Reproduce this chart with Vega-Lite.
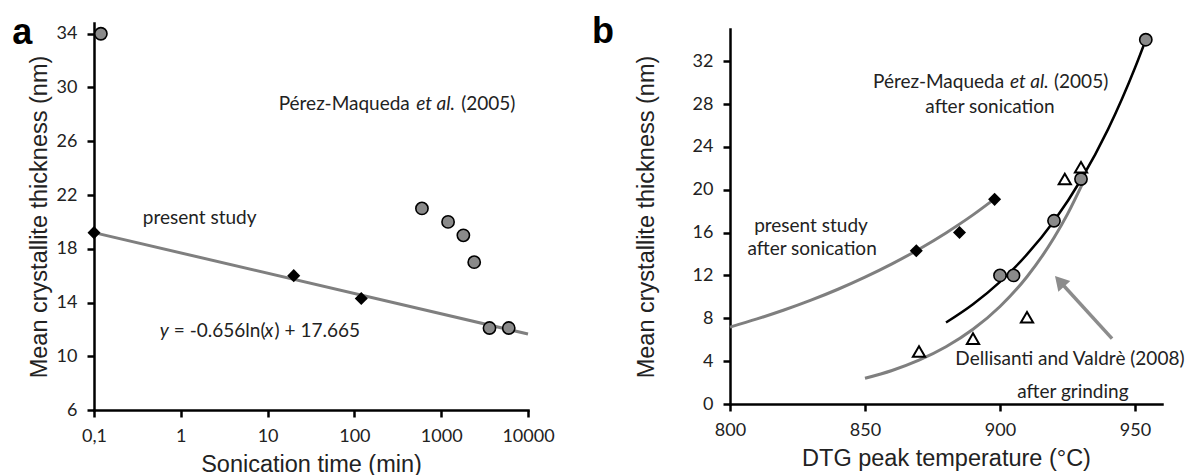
{
  "$schema": "https://vega.github.io/schema/vega-lite/v6.json",
  "background": "white",
  "padding": {"left": 12, "top": 13, "right": 0, "bottom": 0},
  "bounds": "flush",
  "center": true,
  "spacing": 202,
  "config": {
    "view": {"stroke": null},
    "axis": {
      "domainColor": "black", "domainWidth": 2.5, "domainCap": "square",
      "tickColor": "black", "tickWidth": 2.5, "tickSize": 7,
      "labelFont": "Lato", "labelFontSize": 18, "labelColor": "#222", "labelPadding": 10,
      "titleFont": "Liberation Sans", "titleFontSize": 23.5, "titleFontWeight": "normal", "titleColor": "#222",
      "grid": false
    },
    "text": {"font": "Lato", "fontSize": 19, "color": "#222"}
  },
  "datasets": {
    "leftTrend": [{"time": 0.1, "thickness": 19.2}, {"time": 10000, "thickness": 11.65}],
    "leftPresent": [{"time": 0.1, "thickness": 19.2}, {"time": 20, "thickness": 16.0}, {"time": 120, "thickness": 14.3}],
    "leftPerez": [
      {"time": 0.12, "thickness": 34}, {"time": 600, "thickness": 21}, {"time": 1200, "thickness": 20},
      {"time": 1800, "thickness": 19}, {"time": 2400, "thickness": 17}, {"time": 3600, "thickness": 12.1},
      {"time": 6000, "thickness": 12.1}
    ],
    "leftTextCenter": [
      {"text": "present study", "time": 1.65, "thickness": 20.3}
    ],
    "leftTextLeft": [
      {"text": "Pérez-Maqueda", "time": 13.4, "thickness": 28.77},
      {"text": "(2005)", "time": 1698, "thickness": 28.77},
      {"text": "= -0.656ln(", "time": 0.831, "thickness": 11.9},
      {"text": ") + 17.665", "time": 12.04, "thickness": 11.9}
    ],
    "leftTextItalic": [
      {"text": "et al.", "time": 516, "thickness": 28.77},
      {"text": "y", "time": 0.5737, "thickness": 11.9},
      {"text": "x", "time": 9.24, "thickness": 11.9}
    ],
    "leftPanel": [{"text": "a", "time": 0.01142, "thickness": 33.23}],
    "rightCurves": [
      {"series": "present", "temp": 800, "thickness": 7.18},
      {"series": "present", "temp": 810, "thickness": 7.94},
      {"series": "present", "temp": 820, "thickness": 8.77},
      {"series": "present", "temp": 830, "thickness": 9.69},
      {"series": "present", "temp": 840, "thickness": 10.71},
      {"series": "present", "temp": 850, "thickness": 11.84},
      {"series": "present", "temp": 860, "thickness": 13.08},
      {"series": "present", "temp": 870, "thickness": 14.45},
      {"series": "present", "temp": 880, "thickness": 15.97},
      {"series": "present", "temp": 890, "thickness": 17.65},
      {"series": "present", "temp": 897.5, "thickness": 19.05},
      {"series": "dellisanti", "temp": 850, "thickness": 2.4},
      {"series": "dellisanti", "temp": 860, "thickness": 3.13},
      {"series": "dellisanti", "temp": 870, "thickness": 4.09},
      {"series": "dellisanti", "temp": 880, "thickness": 5.34},
      {"series": "dellisanti", "temp": 890, "thickness": 6.97},
      {"series": "dellisanti", "temp": 900, "thickness": 9.1},
      {"series": "dellisanti", "temp": 910, "thickness": 11.88},
      {"series": "dellisanti", "temp": 920, "thickness": 15.51},
      {"series": "dellisanti", "temp": 925, "thickness": 17.72},
      {"series": "dellisanti", "temp": 931, "thickness": 20.8}
    ],
    "rightPerezCurve": [
      {"temp": 880, "thickness": 7.6}, {"temp": 890, "thickness": 9.31}, {"temp": 900, "thickness": 11.4},
      {"temp": 910, "thickness": 13.96}, {"temp": 920, "thickness": 17.09}, {"temp": 930, "thickness": 20.93},
      {"temp": 940, "thickness": 25.63}, {"temp": 950, "thickness": 31.38}, {"temp": 954, "thickness": 34.0}
    ],
    "rightPresent": [{"temp": 869, "thickness": 14.3}, {"temp": 885, "thickness": 16.0}, {"temp": 898, "thickness": 19.1}],
    "rightPerez": [
      {"temp": 900, "thickness": 12.0}, {"temp": 905, "thickness": 12.0}, {"temp": 920, "thickness": 17.1},
      {"temp": 930, "thickness": 21.0}, {"temp": 954, "thickness": 34.0}
    ],
    "rightDellisanti": [
      {"temp": 870, "thickness": 4.9}, {"temp": 890, "thickness": 6.1}, {"temp": 910, "thickness": 8.1},
      {"temp": 924, "thickness": 21.0}, {"temp": 930, "thickness": 22.1}
    ],
    "rightArrow": [{"temp": 941.5, "thickness": 6.1, "temp2": 922.1, "thickness2": 11.46}],
    "rightTextCenter": [
      {"text": "after sonication", "temp": 896.3, "thickness": 27.7},
      {"text": "present study", "temp": 830, "thickness": 16.6},
      {"text": "after sonication", "temp": 830.4, "thickness": 14.46},
      {"text": "Dellisanti and Valdrè (2008)", "temp": 925.9, "thickness": 4.2},
      {"text": "after grinding", "temp": 927, "thickness": 1.12}
    ],
    "rightTextLeft": [
      {"text": "Pérez-Maqueda", "temp": 852.96, "thickness": 30.1},
      {"text": "(2005)", "temp": 920, "thickness": 30.1}
    ],
    "rightTextItalic": [{"text": "et al.", "temp": 903.7, "thickness": 30.1}],
    "rightPanel": [{"text": "b", "temp": 748.9, "thickness": 33.7}]
  },
  "hconcat": [
    {
      "width": 434,
      "height": 387,
      "encoding": {
        "x": {
          "field": "time", "type": "quantitative",
          "scale": {"type": "log", "domain": [0.1, 10000], "nice": false},
          "axis": {
            "title": "Sonication time (min)", "values": [0.1, 1, 10, 100, 1000, 10000],
            "labelExpr": "datum.value < 1 ? '0,1' : format(datum.value, 'd')",
            "titlePadding": 7, "labelFlush": false, "labelOverlap": false
          }
        },
        "y": {
          "field": "thickness", "type": "quantitative",
          "scale": {"domain": [6, 34.8], "nice": false, "zero": false},
          "axis": {
            "title": "Mean crystallite thickness (nm)", "values": [6, 10, 14, 18, 22, 26, 30, 34],
            "titlePadding": 5, "labelFlush": false
          }
        }
      },
      "layer": [
        {"data": {"name": "leftTrend"}, "mark": {"type": "line", "color": "#7f7f7f", "strokeWidth": 3}},
        {"data": {"name": "leftPresent"}, "mark": {"type": "point", "shape": "diamond", "filled": true, "color": "black", "opacity": 1, "size": 170}},
        {"data": {"name": "leftPerez"}, "mark": {"type": "point", "shape": "circle", "filled": true, "fill": "#8a8a8a", "stroke": "black", "strokeWidth": 1.6, "opacity": 1, "size": 150}},
        {"data": {"name": "leftTextCenter"}, "mark": {"type": "text", "align": "center", "baseline": "middle"}, "encoding": {"text": {"field": "text"}}},
        {"data": {"name": "leftTextLeft"}, "mark": {"type": "text", "align": "left", "baseline": "middle"}, "encoding": {"text": {"field": "text"}}},
        {"data": {"name": "leftTextItalic"}, "mark": {"type": "text", "align": "left", "baseline": "middle", "fontStyle": "italic"}, "encoding": {"text": {"field": "text"}}},
        {"data": {"name": "leftPanel"}, "mark": {"type": "text", "align": "left", "baseline": "alphabetic", "font": "Liberation Sans", "fontWeight": "bold", "fontSize": 36, "color": "black"}, "encoding": {"text": {"field": "text"}}}
      ]
    },
    {
      "width": 432,
      "height": 375,
      "encoding": {
        "x": {
          "field": "temp", "type": "quantitative",
          "scale": {"domain": [800, 960], "nice": false, "zero": false},
          "axis": {
            "title": "DTG peak temperature (°C)", "values": [800, 850, 900, 950],
            "titlePadding": 7, "labelFlush": false
          }
        },
        "y": {
          "field": "thickness", "type": "quantitative",
          "scale": {"domain": [0, 35], "nice": false},
          "axis": {
            "title": "Mean crystallite thickness (nm)", "values": [0, 4, 8, 12, 16, 20, 24, 28, 32],
            "titlePadding": 34, "labelFlush": false
          }
        }
      },
      "layer": [
        {"data": {"name": "rightCurves"}, "mark": {"type": "line", "color": "#7f7f7f", "strokeWidth": 3, "interpolate": "monotone"}, "encoding": {"detail": {"field": "series"}}},
        {"data": {"name": "rightPerezCurve"}, "mark": {"type": "line", "color": "black", "strokeWidth": 2.5, "interpolate": "monotone"}},
        {"data": {"name": "rightArrow"}, "mark": {"type": "rule", "color": "#8c8c8c", "strokeWidth": 3.5}, "encoding": {"x2": {"field": "temp2"}, "y2": {"field": "thickness2"}}},
        {"data": {"name": "rightArrow"}, "mark": {"type": "point", "shape": "triangle-up", "filled": true, "color": "#8c8c8c", "opacity": 1, "size": 260, "angle": 318}, "encoding": {"x": {"field": "temp2", "type": "quantitative"}, "y": {"field": "thickness2", "type": "quantitative"}}},
        {"data": {"name": "rightPresent"}, "mark": {"type": "point", "shape": "diamond", "filled": true, "color": "black", "opacity": 1, "size": 170}},
        {"data": {"name": "rightPerez"}, "mark": {"type": "point", "shape": "circle", "filled": true, "fill": "#8a8a8a", "stroke": "black", "strokeWidth": 1.6, "opacity": 1, "size": 150}},
        {"data": {"name": "rightDellisanti"}, "mark": {"type": "point", "shape": "triangle-up", "filled": true, "fill": "white", "stroke": "black", "strokeWidth": 2, "opacity": 1, "size": 150}},
        {"data": {"name": "rightTextCenter"}, "mark": {"type": "text", "align": "center", "baseline": "middle"}, "encoding": {"text": {"field": "text"}}},
        {"data": {"name": "rightTextLeft"}, "mark": {"type": "text", "align": "left", "baseline": "middle"}, "encoding": {"text": {"field": "text"}}},
        {"data": {"name": "rightTextItalic"}, "mark": {"type": "text", "align": "left", "baseline": "middle", "fontStyle": "italic"}, "encoding": {"text": {"field": "text"}}},
        {"data": {"name": "rightPanel"}, "mark": {"type": "text", "align": "left", "baseline": "alphabetic", "font": "Liberation Sans", "fontWeight": "bold", "fontSize": 36, "color": "black"}, "encoding": {"text": {"field": "text"}}}
      ]
    }
  ]
}
